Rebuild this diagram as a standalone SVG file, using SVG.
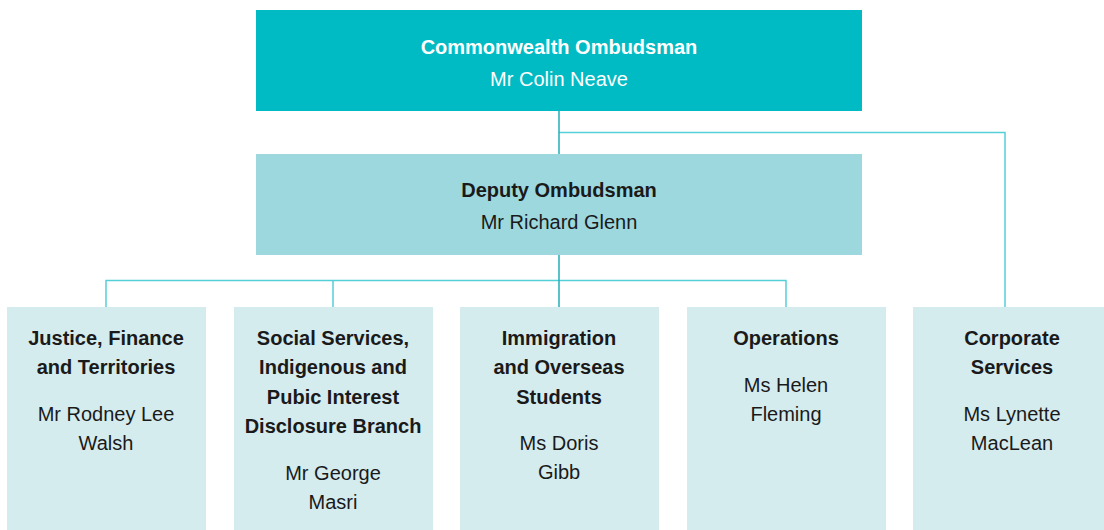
<svg xmlns="http://www.w3.org/2000/svg" width="1104" height="530" viewBox="0 0 1104 530">
<style>
text{font-family:"Liberation Sans",Arial,sans-serif;font-size:20px;text-anchor:middle;fill:#1a1a1a}
.b{font-weight:bold}
.w{fill:#ffffff}
.unit{fill:#d5ecef}
.trunk{stroke:#22b0bb;stroke-width:1.5;fill:none}
.branch{stroke:#55cfd7;stroke-width:1.5;fill:none}
</style>
<rect width="1104" height="530" fill="#ffffff"/>
<g id="connectors">
<path class="branch" d="M559 132.5H1005V307"/>
<path class="branch" d="M106 307V280.5H786V307M333 280.5V307"/>
<path class="trunk" d="M559 111V154M559 255V307"/>
</g>
<g id="ombudsman">
<rect x="256" y="10" width="606" height="101" fill="#00bbc4"/>
<text class="b w" x="559" y="54">Commonwealth Ombudsman</text>
<text class="w" x="559" y="86">Mr Colin Neave</text>
</g>
<g id="deputy">
<rect x="256" y="154" width="606" height="101" fill="#9dd8df"/>
<text class="b" x="559" y="197">Deputy Ombudsman</text>
<text x="559" y="229">Mr Richard Glenn</text>
</g>
<g id="justice">
<rect class="unit" x="7" y="307" width="199" height="223"/>
<text class="b" x="106" y="345">Justice, Finance</text>
<text class="b" x="106" y="374">and Territories</text>
<text x="106" y="421">Mr Rodney Lee</text>
<text x="106" y="450">Walsh</text>
</g>
<g id="social">
<rect class="unit" x="234" y="307" width="199" height="223"/>
<text class="b" x="333" y="345">Social Services,</text>
<text class="b" x="333" y="374">Indigenous and</text>
<text class="b" x="333" y="404">Pubic Interest</text>
<text class="b" x="333" y="433">Disclosure Branch</text>
<text x="333" y="480">Mr George</text>
<text x="333" y="509">Masri</text>
</g>
<g id="immigration">
<rect class="unit" x="460" y="307" width="199" height="223"/>
<text class="b" x="559" y="345">Immigration</text>
<text class="b" x="559" y="374">and Overseas</text>
<text class="b" x="559" y="404">Students</text>
<text x="559" y="450">Ms Doris</text>
<text x="559" y="479">Gibb</text>
</g>
<g id="operations">
<rect class="unit" x="687" y="307" width="199" height="223"/>
<text class="b" x="786" y="345">Operations</text>
<text x="786" y="392">Ms Helen</text>
<text x="786" y="421">Fleming</text>
</g>
<g id="corporate">
<rect class="unit" x="913" y="307" width="199" height="223"/>
<text class="b" x="1012" y="345">Corporate</text>
<text class="b" x="1012" y="374">Services</text>
<text x="1012" y="421">Ms Lynette</text>
<text x="1012" y="450">MacLean</text>
</g>
</svg>
